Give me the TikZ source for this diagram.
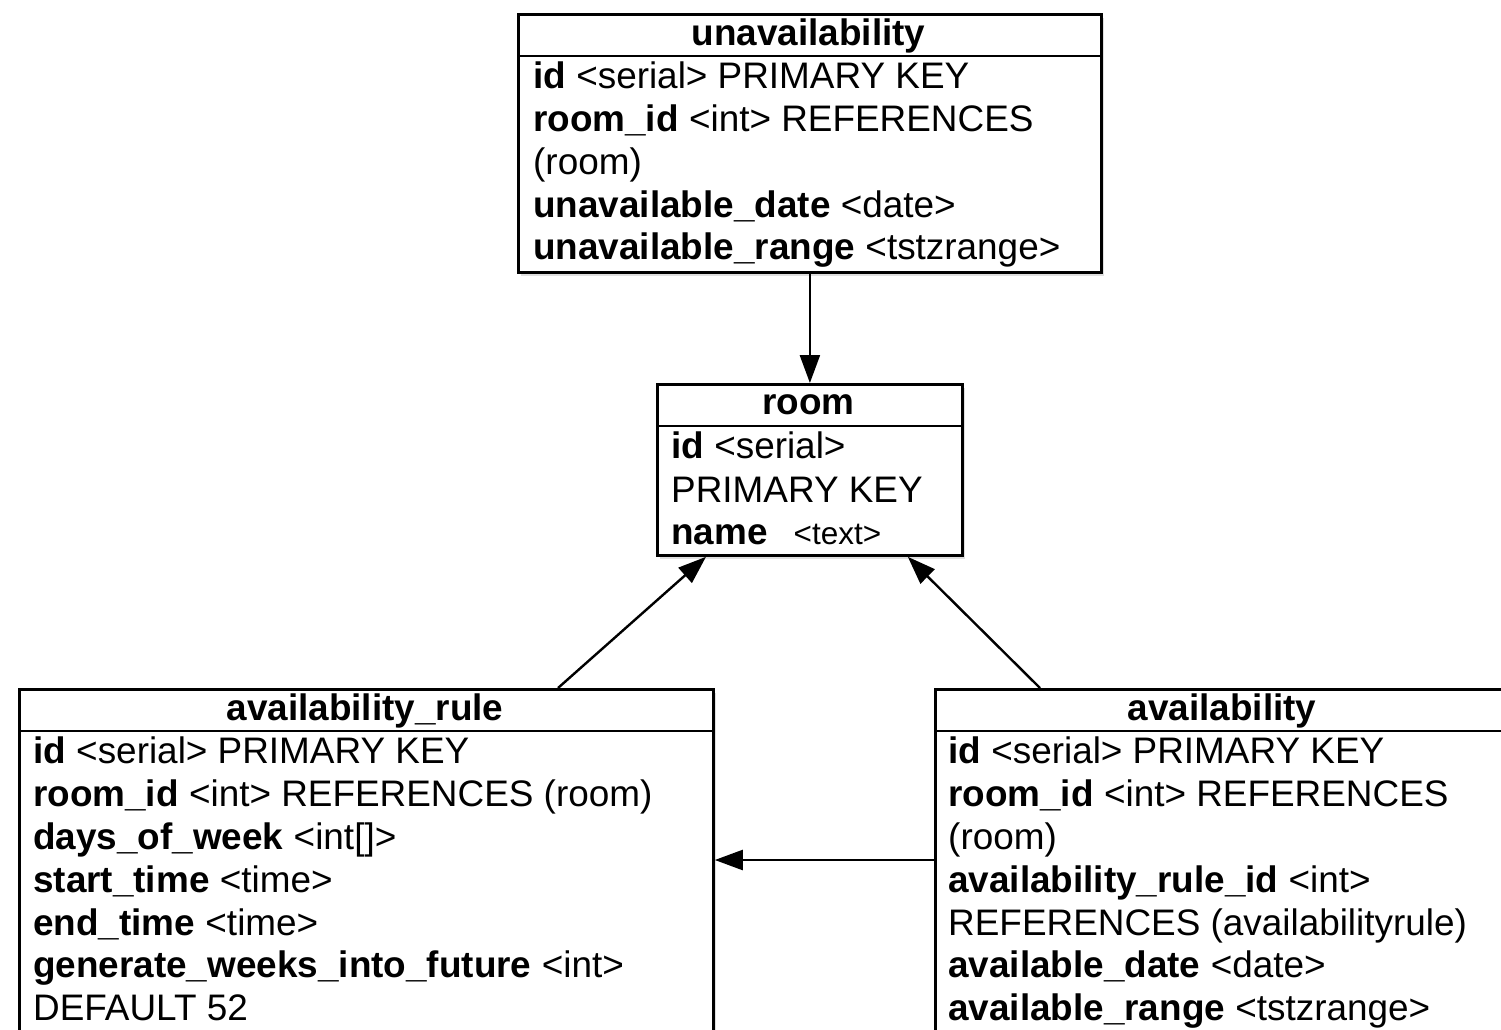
\documentclass[tikz,border=0pt]{standalone}
\usepackage{fontspec}
\setmainfont{Liberation Sans}
\usetikzlibrary{arrows.meta,shadows}
\begin{document}
\begin{tikzpicture}[x=1pt,y=-1pt,
  tbl/.style={draw, line width=2.8pt, fill=white, inner sep=0pt, anchor=north west,
    drop shadow={shadow xshift=3pt, shadow yshift=-4pt, opacity=0.25}},
  sepline/.style={line width=2.8pt},
  hdr/.style={font=\fontsize{36.9}{43}\selectfont\bfseries, anchor=base, inner sep=0pt},
  fld/.style={font=\fontsize{36.9}{43}\selectfont, anchor=base west, inner sep=0pt},
  conn/.style={line width=2.4pt, -{Triangle[length=28pt, width=20pt]}}]
\clip (0,0) rectangle (1501,1029);
\fill[white] (0,0) rectangle (1501,1029);

% unavailability
\node[tbl, minimum width=583pt, minimum height=258pt] (unav) at (517,13) {};
\draw[sepline] ([yshift=-43pt]unav.north west) -- ([yshift=-43pt]unav.north east);
\node[hdr] (unavT) at (808.5,45) {unavailability};
\node[fld] (unav1) at (533,88) {\textbf{id} <serial> PRIMARY KEY};
\node[fld] (unav2) at (533,131) {\textbf{room\_id} <int> REFERENCES};
\node[fld] (unav3) at (533,174) {(room)};
\node[fld] (unav4) at (533,217) {\textbf{unavailable\_date} <date>};
\node[fld] (unav5) at (533,259) {\textbf{unavailable\_range} <tstzrange>};

% room
\node[tbl, minimum width=305pt, minimum height=171pt] (room) at (656,383) {};
\draw[sepline] ([yshift=-43pt]room.north west) -- ([yshift=-43pt]room.north east);
\node[hdr] (roomT) at (808.5,414) {room};
\node[fld] (room1) at (671,458) {\textbf{id} <serial>};
\node[fld] (room2) at (671,502) {PRIMARY KEY};
\node[fld] (room3) at (671,544) {\textbf{name}\hspace{26pt}{\fontsize{31.5}{31.5}\selectfont <text>}};

% availability_rule
\node[tbl, minimum width=694pt, minimum height=420pt] (avrule) at (18,688) {};
\draw[sepline] ([yshift=-43pt]avrule.north west) -- ([yshift=-43pt]avrule.north east);
\node[hdr] (avruleT) at (365,720) {availability\_rule};
\node[fld] (ar1) at (33,763) {\textbf{id} <serial> PRIMARY KEY};
\node[fld] (ar2) at (33,806) {\textbf{room\_id} <int> REFERENCES (room)};
\node[fld] (ar3) at (33,849) {\textbf{days\_of\_week} <int[]>};
\node[fld] (ar4) at (33,892) {\textbf{start\_time} <time>};
\node[fld] (ar5) at (33,935) {\textbf{end\_time} <time>};
\node[fld] (ar6) at (33,977) {\textbf{generate\_weeks\_into\_future} <int>};
\node[fld] (ar7) at (33,1020) {DEFAULT 52};

% availability
\node[tbl, minimum width=576pt, minimum height=420pt] (av) at (934,688) {};
\draw[sepline] ([yshift=-43pt]av.north west) -- ([yshift=-43pt]av.north east);
\node[hdr] (avT) at (1222,720) {availability};
\node[fld] (av1) at (948,763) {\textbf{id} <serial> PRIMARY KEY};
\node[fld] (av2) at (948,806) {\textbf{room\_id} <int> REFERENCES};
\node[fld] (av3) at (948,849) {(room)};
\node[fld] (av4) at (948,892) {\textbf{availability\_rule\_id} <int>};
\node[fld] (av5) at (948,935) {REFERENCES (availabilityrule)};
\node[fld] (av6) at (948,977) {\textbf{available\_date} <date>};
\node[fld] (av7) at (948,1020) {\textbf{available\_range} <tstzrange>};

% connectors
\draw[conn] (unav.south) -- (room.north);
\draw[conn] ([xshift=540pt]avrule.north west) -- ([xshift=50pt]room.south west);
\draw[conn] ([xshift=106pt]av.north west) -- ([xshift=-56pt]room.south east);
\draw[conn] ([yshift=-172pt]av.north west) -- ([yshift=-172pt]avrule.north east);
\end{tikzpicture}
\end{document}
